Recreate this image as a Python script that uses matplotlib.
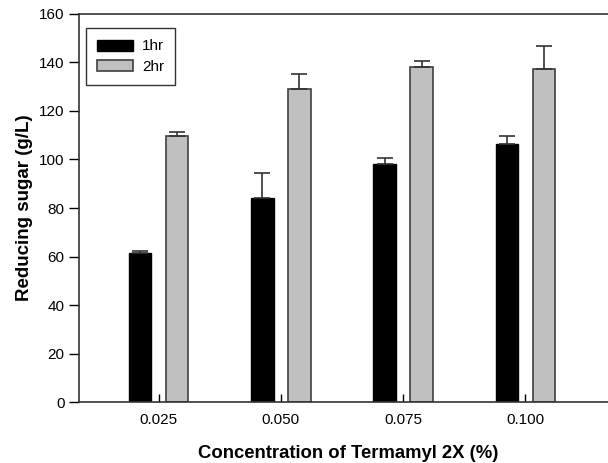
import matplotlib.pyplot as plt
import numpy as np

plt.rcParams["font.family"] = ["Liberation Sans", "DejaVu Sans"]

# Data.
concentrations = ["0.025", "0.050", "0.075", "0.100"]
sugar_1hr = [61.4, 84.0, 98.2, 106.3]  # [g/L]
err_1hr = [0.8, 10.5, 2.4, 3.2]
sugar_2hr = [109.5, 129.2, 138.2, 137.4]  # [g/L]
err_2hr = [2.0, 6.0, 2.6, 9.2]

x = np.arange(1, len(concentrations) + 1)
bar_width = 0.185
offset = 0.152

fig = plt.figure(figsize=(6.08, 4.63), dpi=100)
ax = fig.add_axes([0.130, 0.1317, 0.885, 0.8381])

ax.bar(
    x - offset,
    sugar_1hr,
    width=bar_width,
    color="black",
    edgecolor="black",
    linewidth=1,
    yerr=[np.zeros(len(err_1hr)), err_1hr],
    error_kw=dict(ecolor="#333333", elinewidth=1.2, capsize=6, capthick=1.2),
    label="1hr",
)
ax.bar(
    x + offset,
    sugar_2hr,
    width=bar_width,
    color="#c0c0c0",
    edgecolor="#404040",
    linewidth=1.2,
    yerr=[np.zeros(len(err_2hr)), err_2hr],
    error_kw=dict(ecolor="#333333", elinewidth=1.2, capsize=6, capthick=1.2),
    label="2hr",
)

# .. Axes options.
ax.set_xlim(0.35, 4.75)
ax.set_ylim(0, 160)
ax.set_xticks(x)
ax.set_xticklabels(concentrations)
ax.set_yticks(np.arange(0, 161, 20))
ax.tick_params(axis="both", direction="out", length=7, width=1, labelsize=11)
ax.tick_params(axis="x", direction="in", length=6, pad=8)
ax.spines["right"].set_visible(False)
for side in ["left", "top", "bottom"]:
    ax.spines[side].set_linewidth(1.2)
    ax.spines[side].set_color("#333333")

ax.set_xlabel("Concentration of Termamyl 2X (%)", fontsize=13.3, fontweight="bold", labelpad=13)
ax.set_ylabel("Reducing sugar (g/L)", fontsize=13.5, fontweight="bold", labelpad=4)

leg = ax.legend(
    loc="upper left",
    bbox_to_anchor=(0.013, 0.964),
    borderaxespad=0,
    fontsize=11,
    fancybox=False,
    framealpha=1,
    edgecolor="#333333",
    handlelength=2.3,
    handleheight=0.72,
    handletextpad=0.6,
    borderpad=0.75,
    labelspacing=0.4,
)
leg.get_frame().set_linewidth(1.0)

fig.savefig("out.png", dpi=100)
